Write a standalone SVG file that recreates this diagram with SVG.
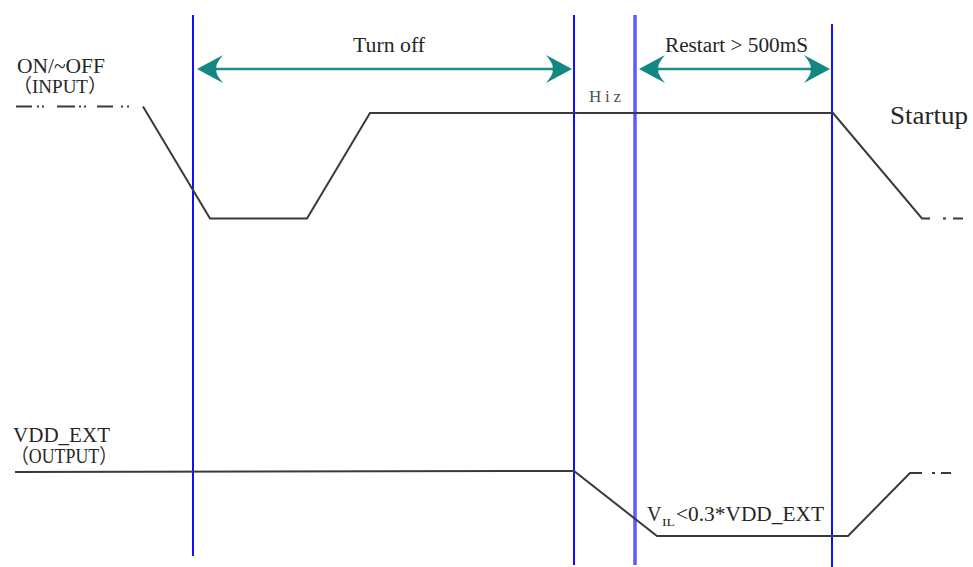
<svg xmlns="http://www.w3.org/2000/svg" width="973" height="567" viewBox="0 0 973 567">
<style>
.lbl{font-family:"Liberation Serif","Times New Roman","Noto Sans CJK SC",serif;fill:#262626;}
.sig{fill:none;stroke:#3a3a3a;stroke-width:2;stroke-linejoin:miter;}
.blue{stroke:#1010ff;stroke-width:2;}
.blue2{stroke:#5a5aff;stroke-width:3.5;}
.dim{stroke:#1d8f89;stroke-width:2.5;}
.ah{fill:#138781;}
</style>
<rect width="973" height="567" fill="#ffffff"/>
<g id="markers">
<line class="blue" x1="193" y1="15" x2="193" y2="556"/>
<line class="blue" x1="574" y1="15" x2="574" y2="565"/>
<line class="blue2" x1="635" y1="15" x2="635" y2="565"/>
<line class="blue" x1="832" y1="24" x2="832" y2="567"/>
</g>
<g id="connectors">
<g id="turnoff-dim">
<line class="dim" x1="212" y1="69" x2="556" y2="69"/>
<path class="ah" d="M197,69 L223,55 Q214,66 217,69 Q214,72 223,83 Z"/>
<path class="ah" d="M572,69 L546,55 Q555,66 552,69 Q555,72 546,83 Z"/>
</g>
<g id="restart-dim">
<line class="dim" x1="655" y1="69" x2="812" y2="69"/>
<path class="ah" d="M639,69 L665,55 Q656,66 659,69 Q656,72 665,83 Z"/>
<path class="ah" d="M830,69 L804,55 Q813,66 810,69 Q813,72 804,83 Z"/>
</g>
</g>
<g id="input-signal">
<path class="sig" d="M16,106.5 H32 M37,106.5 H39 M42,106.5 H44 M57,106.5 H75 M79,106.5 H81 M84,106.5 H86 M97,106.5 H113 M121,106.5 H123 M127,106.5 H129"/>
<path class="sig" d="M143,106.5 L210,218.5 L307,218.5 L370,113 L833,113 L922,218.5 L930,218.5"/>
<path class="sig" d="M943,218.5 H946 M953,218.5 H963"/>
</g>
<g id="output-signal">
<path class="sig" d="M15,472 L574,471 L657,536 L848,536 L910,473 L922,473"/>
<path class="sig" d="M932,473 H935 M941,473 H951"/>
</g>
<g id="labels">
<text class="lbl" x="17" y="73" font-size="20" textLength="88" lengthAdjust="spacingAndGlyphs">ON/~OFF</text>
<text class="lbl" x="13" y="93" font-size="19" textLength="94" lengthAdjust="spacingAndGlyphs">（INPUT）</text>
<text class="lbl" x="13" y="442" font-size="21" textLength="97" lengthAdjust="spacingAndGlyphs">VDD_EXT</text>
<text class="lbl" x="11" y="463" font-size="20" textLength="106" lengthAdjust="spacingAndGlyphs">（OUTPUT）</text>
<text class="lbl" x="353" y="52" font-size="20" textLength="72" lengthAdjust="spacingAndGlyphs">Turn off</text>
<text class="lbl" x="665" y="52" font-size="20" textLength="143" lengthAdjust="spacingAndGlyphs">Restart &gt; 500mS</text>
<text class="lbl" x="589" y="102" font-size="17" fill="#555" style="fill:#505050" textLength="32" lengthAdjust="spacing">Hiz</text>
<text class="lbl" x="890" y="124" font-size="25" textLength="78" lengthAdjust="spacingAndGlyphs">Startup</text>
<text class="lbl" x="647" y="521" font-size="20">V</text>
<text class="lbl" x="662" y="526" font-size="10" textLength="13" lengthAdjust="spacingAndGlyphs">IL</text>
<text class="lbl" x="676" y="521" font-size="20" textLength="148" lengthAdjust="spacingAndGlyphs">&lt;0.3*VDD_EXT</text>
</g>
</svg>
